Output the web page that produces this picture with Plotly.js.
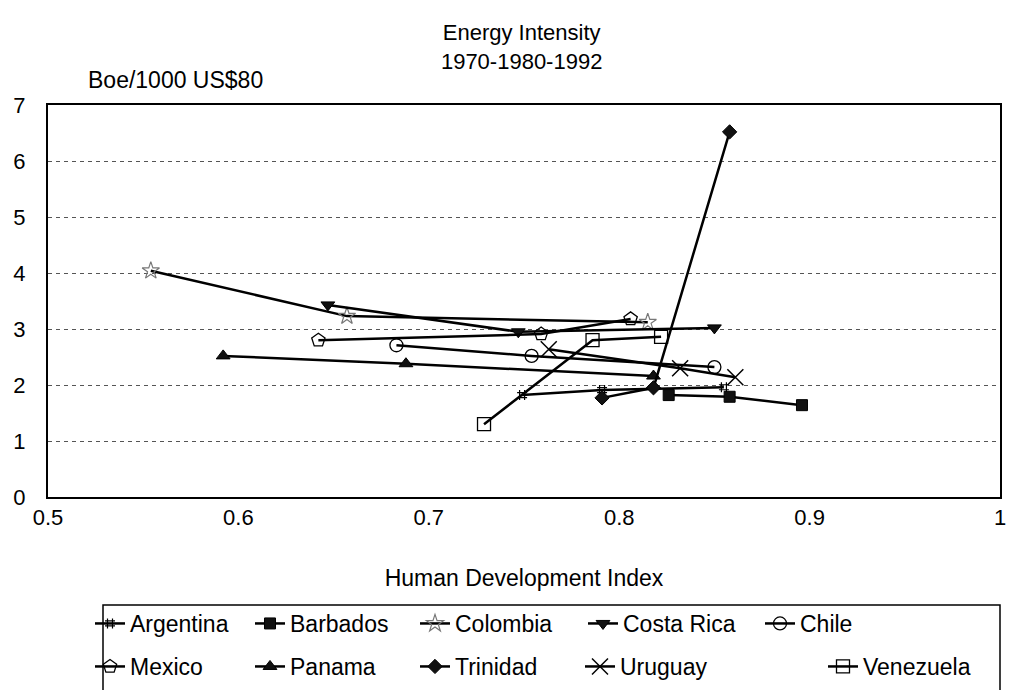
<!DOCTYPE html>
<html>
<head>
<meta charset="utf-8">
<script src="https://cdn.plot.ly/plotly-3.0.1.min.js"></script>
<style>html,body{margin:0;padding:0;background:#fff;}#chart{width:1009px;height:690px;}</style>
</head>
<body>
<div id="chart"></div>
<script>
// Human Development Index (x) and energy intensity in Boe/1000 US$80 (y) for 1970, 1980, 1992
const countries = ["Argentina","Barbados","Colombia","Costa Rica","Chile","Mexico","Panama","Trinidad","Uruguay","Venezuela"];
const argentinaHDI = [0.749, 0.791, 0.855];
const argentinaEI  = [1.82, 1.91, 1.96];
const barbadosHDI  = [0.826, 0.858, 0.896];
const barbadosEI   = [1.82, 1.79, 1.64];
const colombiaHDI  = [0.554, 0.657, 0.815];
const colombiaEI   = [4.04, 3.23, 3.12];
const costaRicaHDI = [0.647, 0.747, 0.850];
const costaRicaEI  = [3.43, 2.95, 3.02];
const chileHDI     = [0.683, 0.754, 0.850];
const chileEI      = [2.71, 2.52, 2.32];
const mexicoHDI    = [0.642, 0.759, 0.806];
const mexicoEI     = [2.80, 2.91, 3.18];
const panamaHDI    = [0.592, 0.688, 0.818];
const panamaEI     = [2.52, 2.38, 2.16];
const trinidadHDI  = [0.791, 0.818, 0.858];
const trinidadEI   = [1.77, 1.95, 6.52];
const uruguayHDI   = [0.763, 0.832, 0.861];
const uruguayEI    = [2.64, 2.30, 2.14];
const venezuelaHDI = [0.729, 0.786, 0.822];
const venezuelaEI  = [1.30, 2.80, 2.86];
const xTicks = [0.5, 0.6, 0.7, 0.8, 0.9, 1];
const yTicks = [0, 1, 2, 3, 4, 5, 6, 7];

const FONT = "'Liberation Sans', Arial, Helvetica, sans-serif";
const xs = [argentinaHDI, barbadosHDI, colombiaHDI, costaRicaHDI, chileHDI, mexicoHDI, panamaHDI, trinidadHDI, uruguayHDI, venezuelaHDI];
const ys = [argentinaEI, barbadosEI, colombiaEI, costaRicaEI, chileEI, mexicoEI, panamaEI, trinidadEI, uruguayEI, venezuelaEI];
const markers = [
  {symbol:'hash-open', size:10, color:'#000', line:{width:1.2,color:'#000'}},
  {symbol:'square', size:11, color:'#111', line:{width:1,color:'#000'}},
  {symbol:'star-open', size:13, color:'#777', line:{width:1.2,color:'#777'}},
  {symbol:'triangle-down', size:12, color:'#111', line:{width:1,color:'#000'}},
  {symbol:'circle-open', size:13, color:'#000', line:{width:1.3,color:'#000'}},
  {symbol:'pentagon-open', size:14, color:'#000', line:{width:1.3,color:'#000'}},
  {symbol:'triangle-up', size:12, color:'#111', line:{width:1,color:'#000'}},
  {symbol:'diamond', size:11, color:'#111', line:{width:1,color:'#000'}},
  {symbol:'x-thin-open', size:16, color:'#000', line:{width:1.5,color:'#000'}},
  {symbol:'square-open', size:13, color:'#000', line:{width:1.3,color:'#000'}}
];
const legendWidths = [115, 120, 123, 132, 60, 115, 120, 120, 198, 116];

const traces = countries.map((name, i) => ({
  type: 'scatter',
  mode: 'lines+markers',
  name: name,
  x: xs[i],
  y: ys[i],
  line: {color:'#000', width:2.5},
  marker: markers[i],
  legend: i < 5 ? 'legend' : 'legend2',
  legendwidth: legendWidths[i],
  cliponaxis: false,
  hoverinfo: 'x+y+name'
}));

const PLOT_TOP = 105, PLOT_BOTTOM = 497, PLOT_LEFT = 48, PLOT_RIGHT = 1000;
const px2x = p => (p - PLOT_LEFT) / (PLOT_RIGHT - PLOT_LEFT);
const py2y = p => (PLOT_BOTTOM - p) / (PLOT_BOTTOM - PLOT_TOP);

const legendBase = {
  orientation: 'h',
  xanchor: 'left',
  yanchor: 'top',
  x: px2x(90),
  bgcolor: 'rgba(0,0,0,0)',
  borderwidth: 0,
  font: {family: FONT, size: 23, color: '#000'},
  traceorder: 'normal'
};

const layout = {
  width: 1009,
  height: 690,
  margin: {l:PLOT_LEFT, r:1009-PLOT_RIGHT, t:PLOT_TOP, b:690-PLOT_BOTTOM, autoexpand: false},
  paper_bgcolor: '#fff',
  plot_bgcolor: '#fff',
  font: {family: FONT, size: 22, color: '#000'},
  title: {
    text: 'Energy Intensity<br>1970-1980-1992',
    x: 0.517, xanchor: 'center',
    y: 1 - 40/690, yanchor: 'top',
    font: {family: FONT, size: 22, color: '#000'}
  },
  xaxis: {
    range: [0.5, 1],
    tickvals: xTicks,
    ticktext: xTicks.map(String),
    showgrid: false,
    zeroline: false,
    showline: true, mirror: true, linecolor: '#000', linewidth: 2,
    ticks: '',
    tickfont: {family: FONT, size: 22, color: '#000'},
    title: {text: 'Human Development Index', standoff: 40, font: {family: FONT, size: 23, color: '#000'}},
    automargin: false
  },
  yaxis: {
    range: [0, 7],
    tickvals: yTicks,
    showgrid: true, gridcolor: '#555', gridwidth: 1, griddash: '4px,4px',
    zeroline: false,
    showline: true, mirror: true, linecolor: '#000', linewidth: 2,
    ticks: 'outside', ticklen: 16, tickcolor: 'rgba(0,0,0,0)',
    tickfont: {family: FONT, size: 22, color: '#000'},
    automargin: false
  },
  legend: Object.assign({}, legendBase, {y: py2y(602)}),
  legend2: Object.assign({}, legendBase, {y: py2y(645)}),
  annotations: [{
    text: 'Boe/1000 US$80',
    xref: 'paper', yref: 'paper',
    x: px2x(86), xanchor: 'left',
    y: py2y(80), yanchor: 'middle',
    showarrow: false,
    font: {family: FONT, size: 23, color: '#000'}
  }],
  shapes: [{
    type: 'rect', xref: 'paper', yref: 'paper',
    x0: px2x(103), x1: px2x(1000), y0: py2y(605), y1: py2y(705),
    line: {color: '#000', width: 1.5},
    fillcolor: 'rgba(0,0,0,0)'
  }],
  showlegend: true
};

Plotly.newPlot('chart', traces, layout, {displayModeBar: false, staticPlot: true});
</script>
</body>
</html>
